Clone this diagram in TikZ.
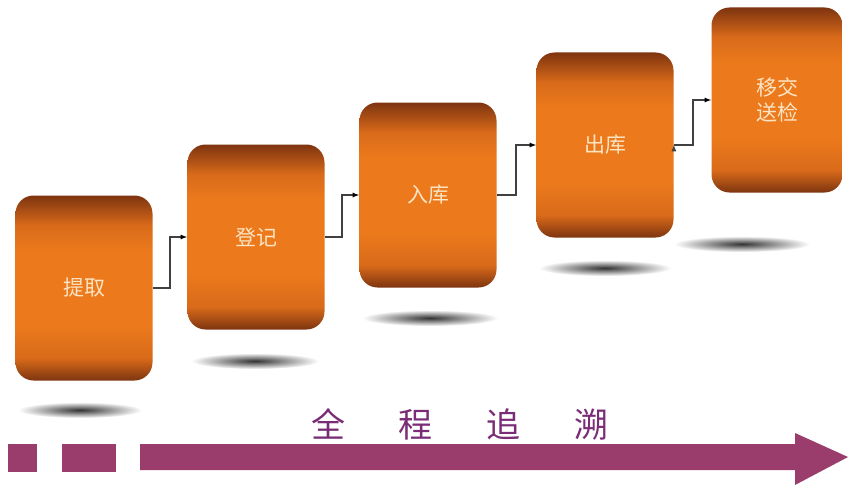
\documentclass[tikz,border=0pt]{standalone}
\usepackage{fontspec}
\setmainfont{Noto Sans CJK SC}
\usetikzlibrary{positioning}

\definecolor{boxdark}{HTML}{7E3410}
\definecolor{boxlight}{HTML}{EC7A1C}
\definecolor{boxmid}{HTML}{D86A1A}
\definecolor{boxtext}{HTML}{FBE4C4}
\definecolor{trackpurple}{HTML}{9A3C6C}
\definecolor{tracktext}{HTML}{7A2C76}

\pgfdeclareverticalshading{boxshade}{100bp}{color(0bp)=(boxdark);
  color(25bp)=(boxdark); color(31bp)=(boxmid); color(40bp)=(boxlight);
  color(60bp)=(boxlight); color(67bp)=(boxmid); color(75bp)=(boxdark);
  color(100bp)=(boxdark)}

\begin{document}
\begin{tikzpicture}[x=1pt,y=-1pt,thick,
        stage node/.style={rectangle,rounded corners=18pt,minimum width=137pt,
          minimum height=185pt,shading=boxshade,text=boxtext,align=center,
          font=\fontsize{21pt}{25pt}\selectfont},
        floor shadow/.style={inner color=black!80,outer color=white,draw=none},
        track/.style={fill=trackpurple,draw=none}]

      \useasboundingbox[fill=white] (0,0) rectangle (849,487);

      % shadows under the boxes
      \shade[floor shadow] (80,410) ellipse (62 and 8);
      \shade[floor shadow] (255,361) ellipse (64 and 8);
      \shade[floor shadow] (430,318) ellipse (68 and 8);
      \shade[floor shadow] (605,268) ellipse (66 and 8);
      \shade[floor shadow] (742,244) ellipse (68 and 8);

      \node[stage node] (1) at (84,288) {提取};
      \node[stage node] (2) at (256,237) {登记};
      \node[stage node] (3) at (428,195) {入库};
      \node[stage node] (4) at (605,145) {出库};
      \node[stage node,minimum width=131pt] (5) at (777,100) {移交\\送检};

      \path[-latex,draw=black!75,line width=1.2pt]
        (1.east) edge[to path={-- ++(17,0) |- (\tikztotarget)}] (2.west)
        (2.east) edge[to path={-- ++(17,0) |- (\tikztotarget)}] (3.west)
        (3.east) edge[to path={-- ++(19,0) |- (\tikztotarget)}] (4.west)
        (4.east) edge[to path={-- ++(19,0) |- (\tikztotarget)}] (5.west);

      % time line at the bottom
      \fill[track] (8,444) rectangle (37,472);
      \fill[track] (62,444) rectangle (116,472);
      \fill[track] (140,444) -- (795,444) -- (795,433) -- (848,457)
        -- (795,485) -- (795,470) -- (140,470) -- cycle;

      \node[text=tracktext,font=\fontsize{34pt}{36pt}\selectfont] (trace) at (460,424)
        {全\hspace{54pt}程\hspace{54pt}追\hspace{54pt}溯};
    \end{tikzpicture}
\end{document}
